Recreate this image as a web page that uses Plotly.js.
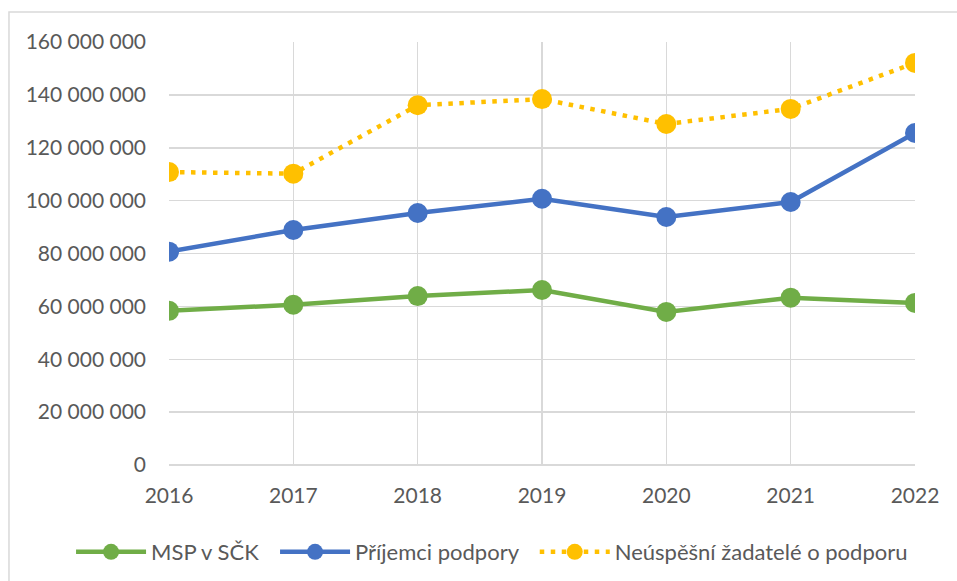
<!DOCTYPE html>
<html>
<head>
<meta charset="utf-8">
<script src="https://cdn.plot.ly/plotly-3.0.1.min.js"></script>
<style>html,body{margin:0;padding:0;background:#fff;}#chart{width:957px;height:581px;}</style>
</head>
<body>
<div id="chart"></div>
<script>
const years = ["2016", "2017", "2018", "2019", "2020", "2021", "2022"];
const mspVSck = [58300000, 60600000, 63900000, 66200000, 57900000, 63300000, 61300000];
const prijemciPodpory = [80700000, 88900000, 95300000, 100700000, 93800000, 99500000, 125600000];
const neuspesniZadatele = [110800000, 110200000, 136100000, 138400000, 129000000, 134700000, 152100000];
const seriesNames = ["MSP v SČK", "Příjemci podpory", "Neúspěšní žadatelé o podporu"];
const yTicks = [0, 20000000, 40000000, 60000000, 80000000, 100000000, 120000000, 140000000, 160000000];

const font = {family: "Lato, 'Open Sans', sans-serif", size: 21, color: "#595959"};
const legendFont = {family: "Lato, 'Open Sans', sans-serif", size: 22, color: "#595959"};
const pad = "\u00a0\u00a0";

const traces = [
  {x: years, y: mspVSck, name: seriesNames[0] + pad, type: "scatter", mode: "lines+markers",
   line: {color: "#70AD47", width: 4.5}, marker: {color: "#70AD47", size: 20}},
  {x: years, y: prijemciPodpory, name: seriesNames[1] + pad, type: "scatter", mode: "lines+markers",
   line: {color: "#4472C4", width: 4.5}, marker: {color: "#4472C4", size: 20}},
  {x: years, y: neuspesniZadatele, name: seriesNames[2], type: "scatter", mode: "lines+markers",
   line: {color: "#FFC000", width: 4.5, dash: "4.5px,6.5px"}, marker: {color: "#FFC000", size: 20}}
];

const layout = {
  width: 957, height: 581,
  margin: {l: 169, r: 42, t: 42, b: 116, pad: 0, autoexpand: false},
  paper_bgcolor: "#ffffff", plot_bgcolor: "#ffffff",
  separators: ", ",
  font: font,
  showlegend: true,
  legend: {orientation: "h", x: -0.1313, xanchor: "left", y: -0.2057, yanchor: "middle",
           font: legendFont, itemwidth: 70, traceorder: "normal", bgcolor: "rgba(0,0,0,0)"},
  xaxis: {type: "category", range: [0, 6], showgrid: true, gridcolor: "#D9D9D9", gridwidth: 1.5,
          zeroline: false, showline: false, ticks: "", tickfont: font, ticklabelstandoff: 16,
          fixedrange: true, automargin: false},
  yaxis: {range: [0, 160000000], tickvals: yTicks, tickformat: ",.0f", showgrid: true,
          gridcolor: "#D9D9D9", gridwidth: 1.5, zeroline: true, zerolinecolor: "#D9D9D9",
          zerolinewidth: 1.5, showline: false, ticks: "", tickfont: font, ticklabelstandoff: 22,
          fixedrange: true, automargin: false},
  shapes: [
    {type: "rect", xref: "paper", yref: "paper", x0: -0.2145, x1: 1.08, y0: -0.29, y1: 1.0709,
     line: {color: "#D9D9D9", width: 1.5}, fillcolor: "rgba(0,0,0,0)", layer: "below"}
  ]
};

Plotly.newPlot("chart", traces, layout, {displayModeBar: false, staticPlot: true});
</script>
</body>
</html>
